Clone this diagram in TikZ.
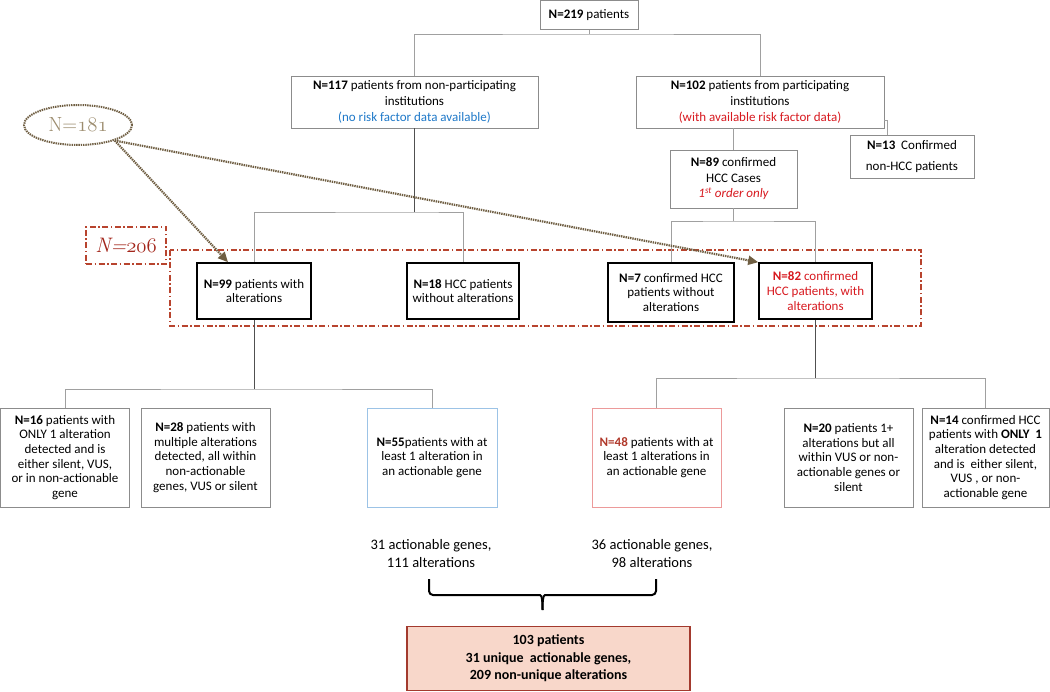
\documentclass[tikz,border=0pt]{standalone}
\usepackage{fontspec}
\setmainfont{Carlito}
\newfontfamily\lmfont{Latin Modern Roman}
\usepackage{tikz}
\usetikzlibrary{arrows.meta,positioning,shapes.geometric}

\definecolor{boxgray}{HTML}{8C8C8C}
\definecolor{linegray}{HTML}{A0A0A0}
\definecolor{darkline}{HTML}{505050}
\definecolor{infoblue}{HTML}{1E78C8}
\definecolor{infored}{HTML}{D7191F}
\definecolor{framered}{HTML}{B8442E}
\definecolor{labelred}{HTML}{A3261B}
\definecolor{nred}{HTML}{B0392B}
\definecolor{pinkline}{HTML}{EC9A9A}
\definecolor{blueline}{HTML}{9CC3E6}
\definecolor{sumfill}{HTML}{F8D7CA}
\definecolor{sumline}{HTML}{A33A2E}
\definecolor{ovalbrown}{HTML}{6F5E42}
\definecolor{ovaltext}{HTML}{9C8C6E}

% old style figures from the math italic font
\newcommand{\osn}[1]{{\usefont{OML}{cmm}{m}{it}#1}}

\begin{document}
\begin{tikzpicture}[x=1pt,y=-1pt,
  box/.style={draw=boxgray, line width=0.9pt, align=center, inner sep=2pt,
    font=\fontsize{13}{14.7}\selectfont},
  boldbox/.style={box, draw=black, line width=1.6pt},
  conn/.style={draw=linegray, line width=0.9pt},
  darkconn/.style={draw=darkline, line width=0.9pt},
  framebox/.style={draw=framered, line width=1.3pt,
    dash pattern=on 6pt off 2.5pt on 1.5pt off 2.5pt},
  ptr/.style={draw=ovalbrown, line width=2.2pt, dash pattern=on 1.4pt off 0.9pt,
    -{Triangle[length=10pt,width=9pt]}},
  bracket/.style={draw=black, line width=2pt, rounded corners=4pt}]
    \useasboundingbox (0,0) rectangle (1050,692);

    % Draw top of the tree
    \node[box, minimum width=98pt, minimum height=29pt] (n219) at (589,15)
        {\textbf{N=219} patients};
    \node[box, minimum width=247pt, minimum height=52pt,
        font=\fontsize{13}{16}\selectfont] (n117) at (414.5,102)
        {\textbf{N=117} patients from non-participating\\institutions\\
         \textcolor{infoblue}{(no risk factor data available)}};
    \node[box, minimum width=248pt, minimum height=52pt,
        font=\fontsize{13}{16}\selectfont] (n102) at (760,102)
        {\textbf{N=102} patients from participating\\institutions\\
         \textcolor{infored}{(with available risk factor data)}};
    \node[box, minimum width=124pt, minimum height=43pt,
        font=\fontsize{13}{21}\selectfont] (n13) at (912,156.5)
        {\textbf{N=13}~ Confirmed\\non-HCC patients};
    \node[box, minimum width=127pt, minimum height=58pt,
        font=\fontsize{13}{15.5}\selectfont] (n89) at (733.5,179)
        {\textbf{N=89} confirmed\\HCC Cases\\
         \textcolor{infored}{\itshape 1\textsuperscript{st} order only}};

    \coordinate (s1) at (589,34);
    \coordinate (s2) at (414.5,212);
    \coordinate (s3) at (733.5,221);
    \draw[conn] (n219.south) -- (s1);
    \draw[conn] (n117.north) |- (s1) -| (n102.north);
    \draw[conn] ([yshift=-18pt]n102.east) -| ([xshift=-25pt]n13.north);
    \draw[conn] (n102.south -| n89.north) -- (n89.north);

    % the N=206 group
    \draw[framebox] (170,250) rectangle (921,326);
    \node[framebox, minimum width=80pt, minimum height=37pt, text=labelred,
        font=\lmfont\itshape\fontsize{21}{22}\selectfont] (n206) at (126,245.5)
        {N=\osn{206}};

    \node[boldbox, minimum width=114pt, minimum height=56pt] (n99) at (254,291)
        {\textbf{N=99} patients with\\alterations};
    \node[boldbox, minimum width=112pt, minimum height=56pt] (n18) at (463,291)
        {\textbf{N=18} HCC patients\\without alterations};
    \node[boldbox, minimum width=126pt, minimum height=59pt] (n7) at (671,292.5)
        {\textbf{N=7} confirmed HCC\\patients without\\alterations};
    \node[boldbox, minimum width=113pt, minimum height=56pt, text=infored] (n82) at (815.5,291)
        {\textbf{N=82} confirmed\\HCC patients, with\\alterations};

    \draw[darkconn] (n117.south) -- (s2);
    \draw[conn] (n99.north) |- (s2) -| (n18.north);
    \draw[conn] (n89.south) -- (s3);
    \draw[conn] (n7.north) |- (s3) -| (n82.north);

    % N=181 oval and its arrows
    \node[ellipse, draw=ovalbrown, line width=2pt, dash pattern=on 1.4pt off 0.9pt,
        minimum width=108pt, minimum height=40pt, text=ovaltext,
        font=\lmfont\fontsize{20.5}{22}\selectfont] (n181) at (78,125) {N=\osn{181}};
    \draw[ptr] (n181.-23) -- ([xshift=-26pt]n99.north);
    \draw[ptr] (n181.-23) -- (n82.north west);

    % lower boxes
    \node[box, minimum width=129pt, minimum height=99pt] (n16) at (65,457.5)
        {\textbf{N=16} patients with\\ONLY 1 alteration\\detected and is\\
         either silent, VUS,\\or in non-actionable\\gene};
    \node[box, minimum width=129pt, minimum height=99pt] (n28) at (205.5,457.5)
        {\textbf{N=28} patients with\\multiple alterations\\detected, all within\\
         non-actionable\\genes, VUS or silent};
    \node[box, draw=blueline, minimum width=130pt, minimum height=99pt] (n55) at (432,457.5)
        {\textbf{N=55}patients with at\\least 1 alteration in\\an actionable gene};
    \node[box, draw=pinkline, minimum width=129pt, minimum height=99pt] (n48) at (656.5,457.5)
        {\textcolor{nred}{\textbf{N=48}} patients with at\\least 1 alterations in\\an actionable gene};
    \node[box, minimum width=129pt, minimum height=99pt] (n20) at (848.5,457.5)
        {\textbf{N=20} patients 1+\\alterations but all\\within VUS or non-\\
         actionable genes or\\silent};
    \node[box, minimum width=127pt, minimum height=99pt] (n14) at (985.5,457.5)
        {\textbf{N=14} confirmed HCC\\patients with \textbf{ONLY~ 1}\\alteration detected\\
         and is~ either silent,\\VUS , or non-\\actionable gene};

    \coordinate (s4) at (254,389);
    \coordinate (s5) at (815.5,378);
    \draw[darkconn] (n99.south) -- (s4);
    \draw[conn] (n16.north) |- (s4) -| (n55.north);
    \draw[darkconn] (n82.south) -- (s5);
    \draw[conn] (n48.north) |- (s5) -| (n14.north);

    % totals
    \node[align=center, font=\fontsize{14.5}{18}\selectfont] (genesA) at (431,554)
        {31 actionable genes,\\111 alterations};
    \node[align=center, font=\fontsize{14.5}{18}\selectfont] (genesB) at (652,554)
        {36 actionable genes,\\98 alterations};
    \draw[bracket] (429,579) |- (536,595) to[out=0,in=90] (542.5,610);
    \draw[bracket] (656,579) |- (549,595) to[out=180,in=90] (542.5,610);

    \node[draw=sumline, fill=sumfill, line width=1.5pt, minimum width=283pt,
        minimum height=64pt, align=center, font=\bfseries\fontsize{14}{17.5}\selectfont]
        (total) at (548.5,658.5)
        {103 patients\\31 unique~ actionable genes,\\209 non-unique alterations};
\end{tikzpicture}
\end{document}
